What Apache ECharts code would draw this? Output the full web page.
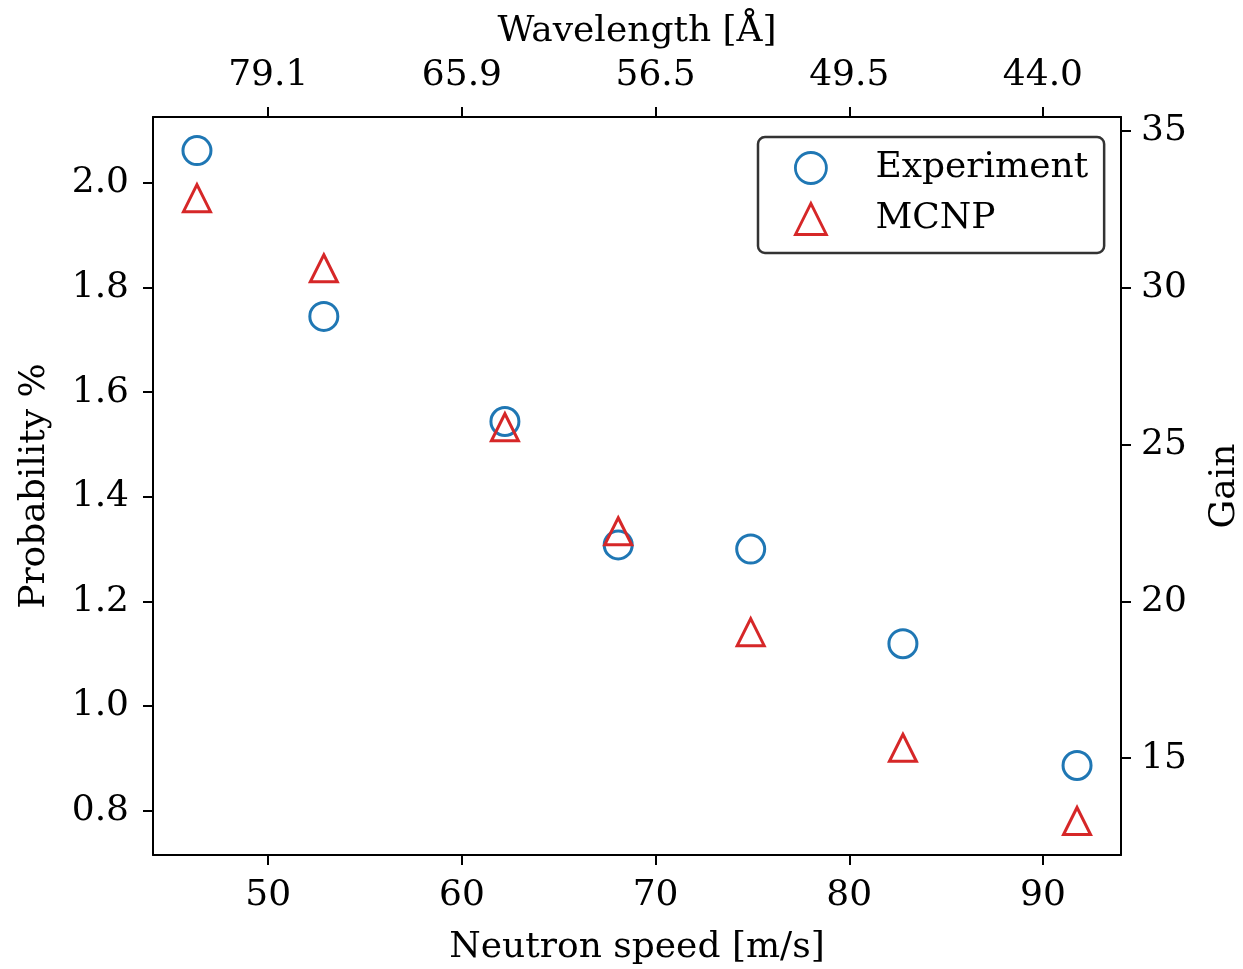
<!DOCTYPE html>
<html>
<head>
<meta charset="utf-8">
<script src="https://cdn.jsdelivr.net/npm/echarts@6/dist/echarts.min.js"></script>
<style>
  html, body { margin: 0; padding: 0; background: #fff; overflow: hidden; }
  #chart { width: 1243px; height: 969px; }
</style>
</head>
<body>
<div id="chart"></div>
<script>
// neutron speed [m/s] of each measurement
const speeds = [46.32, 52.87, 62.22, 68.07, 74.91, 82.77, 91.76];
// probability %
const experiment = [2.062, 1.745, 1.544, 1.308, 1.300, 1.119, 0.886];
const mcnp = [1.971, 1.837, 1.533, 1.334, 1.141, 0.920, 0.780];

// tick labels
const speedTicks = [50, 60, 70, 80, 90];
const wavelengthLabels = ["79.1", "65.9", "56.5", "49.5", "44.0"];
const probTicks = [0.8, 1.0, 1.2, 1.4, 1.6, 1.8, 2.0];
const gainTicks = [15, 20, 25, 30, 35];

// axis ranges
const speedMin = 44.05, speedMax = 94.03;
const probMin = 0.7149, probMax = 2.1263;
const gainPerProb = 16.667; // gain axis is probability scaled

const font = "DejaVu Serif";
const fs = 36;
const blue = "#1f77b4";
const red = "#d62728";

const chart = echarts.init(document.getElementById("chart"));

const axisCommon = {
  axisLine: { show: true, onZero: false, lineStyle: { color: "#000", width: 2 } },
  axisTick: { show: true, length: 10, lineStyle: { color: "#000", width: 2 } },
  splitLine: { show: false },
  nameTextStyle: { fontFamily: font, fontSize: fs, color: "#000" }
};

const option = {
  backgroundColor: "#fff",
  animation: false,
  grid: { left: 153, right: 122, top: 117, bottom: 114, containLabel: false, outerBoundsMode: "none" },
  legend: {
    orient: "vertical",
    left: 758,
    top: 137,
    padding: [13, 16, 16, 36],
    itemWidth: 31,
    itemHeight: 31,
    itemGap: 15,
    borderColor: "#333",
    borderWidth: 2.5,
    borderRadius: 7,
    itemStyle: { borderWidth: 2.8 },
    textStyle: { fontFamily: font, fontSize: fs, color: "#000", lineHeight: 34, padding: [0, 0, 0, 44] },
    data: ["Experiment", "MCNP"]
  },
  xAxis: [
    Object.assign({}, axisCommon, {
      type: "value",
      position: "bottom",
      min: speedMin,
      max: speedMax,
      name: "Neutron speed [m/s]",
      nameLocation: "middle",
      nameGap: 75,
      axisTick: Object.assign({}, axisCommon.axisTick, { customValues: speedTicks }),
      axisLabel: {
        customValues: speedTicks,
        margin: 23,
        fontFamily: font, fontSize: fs, color: "#000",
        formatter: v => String(v)
      }
    }),
    Object.assign({}, axisCommon, {
      type: "value",
      position: "top",
      min: speedMin,
      max: speedMax,
      name: "Wavelength [Å]",
      nameLocation: "middle",
      nameGap: 67,
      axisTick: Object.assign({}, axisCommon.axisTick, { customValues: speedTicks }),
      axisLabel: {
        customValues: speedTicks,
        margin: 23,
        fontFamily: font, fontSize: fs, color: "#000",
        formatter: v => wavelengthLabels[speedTicks.indexOf(v)]
      }
    })
  ],
  yAxis: [
    Object.assign({}, axisCommon, {
      type: "value",
      position: "left",
      min: probMin,
      max: probMax,
      name: "Probability %",
      nameLocation: "middle",
      nameRotate: 90,
      nameGap: 100,
      axisTick: Object.assign({}, axisCommon.axisTick, { customValues: probTicks }),
      axisLabel: {
        customValues: probTicks,
        margin: 24,
        fontFamily: font, fontSize: fs, color: "#000",
        formatter: v => v.toFixed(1)
      }
    }),
    Object.assign({}, axisCommon, {
      type: "value",
      position: "right",
      min: probMin * gainPerProb,
      max: probMax * gainPerProb,
      name: "Gain",
      nameLocation: "middle",
      nameRotate: 90,
      nameGap: 86,
      axisTick: Object.assign({}, axisCommon.axisTick, { customValues: gainTicks }),
      axisLabel: {
        customValues: gainTicks,
        margin: 20,
        fontFamily: font, fontSize: fs, color: "#000",
        formatter: v => String(v)
      }
    })
  ],
  series: [
    {
      name: "Experiment",
      type: "scatter",
      xAxisIndex: 0,
      yAxisIndex: 0,
      symbol: "circle",
      symbolSize: 28,
      itemStyle: { color: "rgba(255,255,255,0)", borderColor: blue, borderWidth: 3, opacity: 1 },
      data: speeds.map((s, i) => [s, experiment[i]])
    },
    {
      name: "MCNP",
      type: "scatter",
      xAxisIndex: 0,
      yAxisIndex: 0,
      symbol: "triangle",
      symbolSize: 27,
      itemStyle: { color: "rgba(255,255,255,0)", borderColor: red, borderWidth: 3, opacity: 1 },
      data: speeds.map((s, i) => [s, mcnp[i]])
    }
  ]
};

chart.setOption(option);
</script>
</body>
</html>
